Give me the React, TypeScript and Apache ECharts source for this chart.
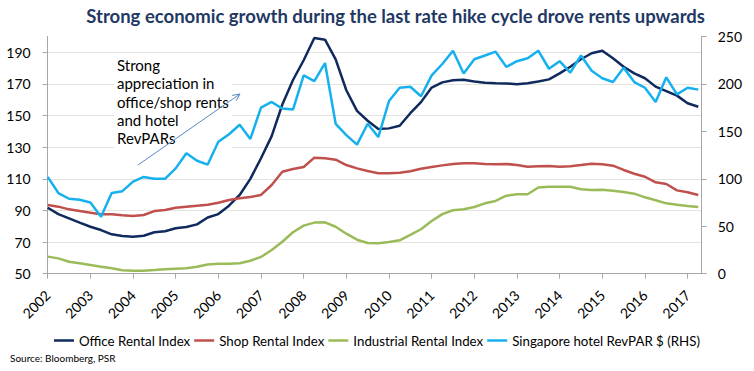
import React, { useEffect, useRef } from "react";
import * as echarts from "echarts";

const titleText = "Strong economic growth during the last rate hike cycle drove rents upwards";
const sourceText = "Source: Bloomberg, PSR";
const noteText = "Strong\nappreciation in\noffice/shop rents\nand hotel\nRevPARs";

const startYear = 2002;
const years = [2002, 2003, 2004, 2005, 2006, 2007, 2008, 2009, 2010, 2011, 2012, 2013, 2014, 2015, 2016, 2017];
const seriesNames = ["Office Rental Index", "Shop Rental Index", "Industrial Rental Index", "Singapore hotel RevPAR $ (RHS)"];

// quarterly values, 2002Q1 .. 2017Q2
const office = [
  91.7, 87.7, 85.0, 82.3, 79.7, 77.6, 74.9, 73.8, 73.4, 74.0,
  76.2, 76.8, 78.7, 79.5, 81.2, 85.5, 87.7, 93.0, 99.8, 110.0,
  123.0, 137.0, 157.0, 172.5, 185.0, 199.0, 198.0, 185.5, 166.0, 153.0,
  146.7, 141.5, 141.9, 143.6, 151.5, 158.5, 167.7, 171.0, 172.3, 172.7,
  171.6, 170.8, 170.5, 170.3, 169.8, 170.4, 171.6, 172.9, 176.7, 180.9,
  185.6, 189.4, 191.0, 186.2, 180.9, 176.7, 173.6, 168.3, 165.5, 162.6,
  157.8, 155.6,
];
const shop = [
  93.4, 92.4, 90.7, 89.6, 88.6, 87.6, 87.6, 86.9, 86.5, 87.1,
  89.6, 90.3, 91.7, 92.4, 93.0, 93.6, 94.9, 96.6, 97.7, 98.5,
  99.8, 106.1, 114.5, 116.2, 117.5, 123.4, 123.0, 122.1, 118.7, 116.6,
  114.9, 113.5, 113.5, 113.9, 114.8, 116.4, 117.5, 118.5, 119.4, 119.8,
  119.8, 119.4, 119.2, 119.4, 118.7, 117.7, 118.0, 118.1, 117.7, 117.9,
  118.7, 119.6, 119.2, 118.3, 115.6, 113.2, 111.3, 107.8, 106.7, 102.7,
  101.5, 99.8,
];
const industrial = [
  60.8, 59.7, 57.6, 56.6, 55.5, 54.4, 53.4, 52.2, 51.9, 51.9,
  52.3, 52.8, 53.2, 53.4, 54.4, 55.8, 56.3, 56.3, 56.6, 58.2,
  60.6, 65.0, 70.2, 76.2, 80.4, 82.3, 82.5, 79.7, 75.3, 71.5,
  69.4, 69.2, 70.0, 71.1, 74.5, 78.1, 83.3, 87.7, 90.1, 90.7,
  92.2, 94.5, 96.0, 99.3, 100.2, 100.2, 104.5, 105.0, 105.0, 105.0,
  103.4, 102.9, 103.1, 102.5, 101.7, 100.6, 98.3, 96.4, 94.5, 93.6,
  92.8, 92.2,
];
const revpar = [
  102, 85, 79, 78, 75, 60, 85, 87, 97, 102,
  100, 100, 111, 127, 119, 115, 139, 147, 157, 142,
  175, 181, 174, 173, 209, 203, 222, 158, 146, 136,
  158, 144, 182, 196, 197, 187, 209, 221, 235, 211,
  226, 230, 234, 218, 224, 227, 235, 216, 224, 212,
  230, 214, 206, 202, 217, 202, 196, 181, 207, 189,
  196, 194,
];

const colors = ["#102A5E", "#C0504D", "#9BBB59", "#16B0EE"];

export default function App() {
  const ref = useRef<HTMLDivElement>(null);
  useEffect(() => {
    if (!ref.current) return;
    const chart = echarts.init(ref.current, null, { renderer: "svg" });
    const toPairs = (arr: number[]) => arr.map((v, i) => [startYear + i / 4, v]);
    const axisColor = "#a6a6a6";
    const font = "Lato";
    chart.setOption({
      animation: false,
      backgroundColor: "#ffffff",
      textStyle: { fontFamily: font },
      title: {
        text: titleText,
        right: 44,
        top: 1,
        textStyle: { fontSize: 18.5, fontWeight: "bold", color: "#1F3864", fontFamily: font },
      },
      grid: { left: 47.7, right: 52.3, top: 36.5, bottom: 97.3 },
      legend: {
        data: seriesNames,
        top: 329,
        left: "center",
        icon: "rect",
        itemWidth: 20,
        itemHeight: 2.5,
        itemGap: 4,
        textStyle: { fontSize: 13.3, color: "#000", fontFamily: font },
      },
      xAxis: {
        type: "value",
        min: 2002,
        max: 2017.33,
        interval: 1,
        axisLine: { show: true, lineStyle: { color: axisColor } },
        axisTick: { show: true, length: 5, lineStyle: { color: axisColor } },
        splitLine: { show: false },
        axisLabel: {
          rotate: 45,
          margin: 19,
          fontSize: 14,
          color: "#000",
          showMaxLabel: false,
          formatter: (v: number) => {
            const y = years.find((yy) => Math.abs(yy - v) < 1e-6);
            return y !== undefined ? String(y) : "";
          },
        },
      },
      yAxis: [
        {
          type: "value",
          min: 50,
          max: 200,
          interval: 20,
          position: "left",
          axisLine: { show: true, lineStyle: { color: axisColor } },
          axisTick: { show: true, length: 5, lineStyle: { color: axisColor } },
          axisLabel: { showMaxLabel: false, fontSize: 14, color: "#000", margin: 17 },
          splitLine: { show: true, showMaxLine: false, showMinLine: false, lineStyle: { color: "#e4e4dc", width: 1 } },
        },
        {
          type: "value",
          min: 0,
          max: 250,
          interval: 50,
          position: "right",
          axisLine: { show: true, lineStyle: { color: axisColor } },
          axisTick: { show: true, length: 5, lineStyle: { color: axisColor } },
          axisLabel: { fontSize: 14, color: "#000", margin: 16 },
          splitLine: { show: false },
        },
      ],
      series: [
        { name: seriesNames[0], type: "line", yAxisIndex: 0, z: 3, data: toPairs(office), showSymbol: false, lineStyle: { width: 2.5, color: colors[0] }, itemStyle: { color: colors[0] } },
        { name: seriesNames[1], type: "line", yAxisIndex: 0, z: 3, data: toPairs(shop), showSymbol: false, lineStyle: { width: 2.5, color: colors[1] }, itemStyle: { color: colors[1] } },
        { name: seriesNames[2], type: "line", yAxisIndex: 0, z: 3, data: toPairs(industrial), showSymbol: false, lineStyle: { width: 2.5, color: colors[2] }, itemStyle: { color: colors[2] } },
        { name: seriesNames[3], type: "line", yAxisIndex: 1, z: 3, data: toPairs(revpar), showSymbol: false, lineStyle: { width: 2.5, color: colors[3] }, itemStyle: { color: colors[3] } },
      ],
      graphic: [
        {
          type: "text",
          left: 114,
          top: 53,
          z: 1,
          style: {
            text: noteText,
            fontSize: 15,
            lineHeight: 18.3,
            fill: "#000",
            fontFamily: font,
            backgroundColor: "#ffffff",
            padding: [3, 3, 3, 3],
          },
        },
        {
          type: "line",
          z: 1,
          shape: { x1: 138, y1: 165, x2: 240, y2: 94 },
          style: { stroke: "#5B86C5", lineWidth: 1 },
        },
        {
          type: "polyline",
          z: 1,
          shape: { points: [[232.1, 95.4], [240, 94], [236, 100.9]] },
          style: { stroke: "#5B86C5", lineWidth: 1, fill: null },
        },
        {
          type: "text",
          left: 10,
          top: 353,
          style: { text: sourceText, fontSize: 10, fill: "#000", fontFamily: font },
        },
      ],
    });
    return () => chart.dispose();
  }, []);
  return <div ref={ref} style={{ position: "fixed", left: 0, top: 0, width: 754, height: 371 }} />;
}
